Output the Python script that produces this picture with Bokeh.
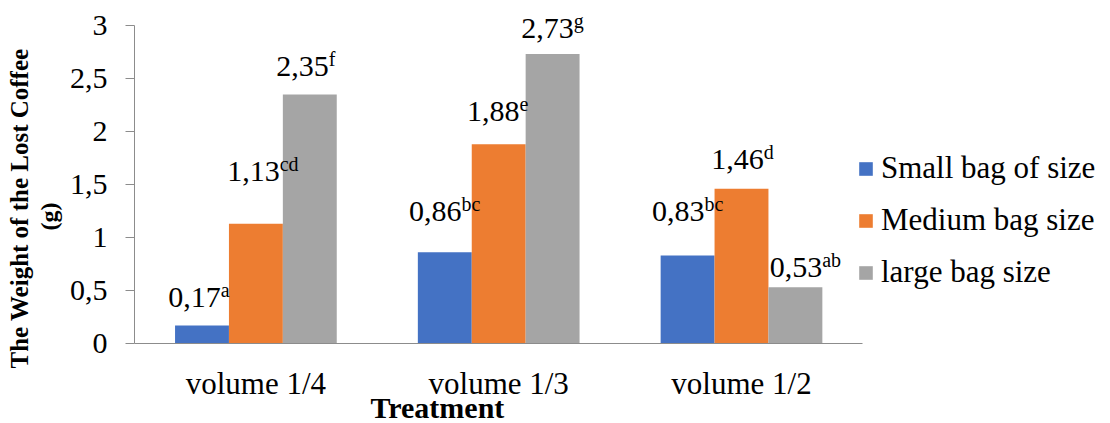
from bokeh.plotting import figure
from bokeh.models import (ColumnDataSource, Range1d, FixedTicker, Legend, LegendItem,
                          LabelSet, Title)
from bokeh.embed import file_html
from bokeh.resources import INLINE

# ---- data ----
treatments = ["volume 1/4", "volume 1/3", "volume 1/2"]
series_names = ["Small bag of size", "Medium bag size", "large bag size"]
small = [0.17, 0.86, 0.83]
medium = [1.13, 1.88, 1.46]
large = [2.35, 2.73, 0.53]
small_letters = ["a", "bc", "bc"]
medium_letters = ["cd", "e", "d"]
large_letters = ["f", "g", "ab"]
y_ticks = [0, 0.5, 1, 1.5, 2, 2.5, 3]
y_max = 3

# ---- label placement (px, style only) ----
small_dx, small_dy = [-3, 0, 0], [18, 31, 35]
medium_dx, medium_dy = [7, -1, 1], [43, 23, 20]
large_dx, large_dy = [-4, 0, 10], [18, 16, 10]

colors = ["#4472C4", "#ED7D31", "#A5A5A5"]
FONT = "Liberation Serif"
F_MAIN = 30
F_SUP = 20

# approximate Times widths (em)
W = {"0": .5, "1": .5, "2": .5, "3": .5, "4": .5, "5": .5, "6": .5, "7": .5, "8": .5, "9": .5,
     ",": .25, "a": .444, "b": .5, "c": .444, "d": .5, "e": .444, "f": .333, "g": .5}


def tw(s, f):
    return sum(W.get(ch, .5) for ch in s) * f


def fmt(v):
    return ("%.2f" % v).replace(".", ",")


def fmt_tick(t):
    return str(int(t)) if t == int(t) else str(t).replace(".", ",")


# layout (px)
WIDTH, HEIGHT = 1110, 423
LEFT = 134
FRAME_H = 343          # frame from canvas top to x axis
AX_H = 318             # height of the 0..3 value axis
CAT_W = 242.8          # width of one category slot
n_cat = len(treatments)
x_end = (WIDTH - LEFT) / CAT_W

p = figure(x_range=Range1d(0, x_end), y_range=Range1d(0, y_max * FRAME_H / AX_H),
           width=WIDTH, height=HEIGHT, output_backend="svg", toolbar_location=None,
           min_border_left=LEFT, min_border_right=0, min_border_top=0,
           min_border_bottom=HEIGHT - FRAME_H)
p.title.visible = False
p.grid.visible = False
p.outline_line_color = None
p.background_fill_color = "white"
p.border_fill_color = "white"

bar_w = 0.222
offsets = [-bar_w, 0, bar_w]
series = [small, medium, large]
letters = [small_letters, medium_letters, large_letters]
dxs = [small_dx, medium_dx, large_dx]
dys = [small_dy, medium_dy, large_dy]
cat_pos = [i + 0.5 for i in range(n_cat)]

renderers = []
for i, (vals, lets) in enumerate(zip(series, letters)):
    nums = [fmt(v) for v in vals]
    nw = [tw(n, F_MAIN) for n in nums]
    sw = [tw(l, F_SUP) for l in lets]
    tot = [a + b for a, b in zip(nw, sw)]
    src = ColumnDataSource(dict(
        x=[c + offsets[i] for c in cat_pos], val=vals, num=nums, sup=lets,
        xo_num=[-t / 2 + d for t, d in zip(tot, dxs[i])],
        xo_sup=[-t / 2 + a + d for t, a, d in zip(tot, nw, dxs[i])],
        yo_num=dys[i],
        yo_sup=[d + 10 for d in dys[i]],
    ))
    r = p.vbar(x="x", top="val", width=bar_w, source=src,
               fill_color=colors[i], line_color=None)
    renderers.append(r)
    p.add_layout(LabelSet(x="x", y="val", text="num",
                          x_offset="xo_num", y_offset="yo_num", source=src,
                          text_font=FONT, text_font_size=f"{F_MAIN}px", text_color="black",
                          text_align="left", text_baseline="alphabetic"))
    p.add_layout(LabelSet(x="x", y="val", text="sup",
                          x_offset="xo_sup", y_offset="yo_sup", source=src,
                          text_font=FONT, text_font_size=f"{F_SUP}px", text_color="black",
                          text_align="left", text_baseline="alphabetic"))

# axes
axc = "#8C8C8C"
p.yaxis.bounds = (0, y_max)
p.yaxis.ticker = FixedTicker(ticks=y_ticks)
p.yaxis.major_label_overrides = {t: fmt_tick(t) for t in y_ticks}
p.yaxis.major_tick_out = 9
p.yaxis.major_tick_in = 0
p.yaxis.major_label_standoff = 18
p.yaxis.major_label_text_font_size = "30px"

p.xaxis.bounds = (0, n_cat)
p.xaxis.ticker = FixedTicker(ticks=cat_pos)
p.xaxis.major_label_overrides = {c: t for c, t in zip(cat_pos, treatments)}
p.xaxis.major_tick_out = 0
p.xaxis.major_tick_in = 0
p.xaxis.major_label_standoff = 22
p.xaxis.major_label_text_font_size = "31px"

for ax in (p.xaxis, p.yaxis):
    ax.minor_tick_out = 0
    ax.minor_tick_in = 0
    ax.axis_line_color = axc
    ax.major_tick_line_color = axc
    ax.major_label_text_font = FONT
    ax.major_label_text_color = "black"

# axis titles
p.add_layout(Title(text="(g)", align="left", offset=113, standoff=6, vertical_align="top",
                   text_font=FONT, text_font_style="bold", text_font_size="24px",
                   text_color="black"), "left")
p.add_layout(Title(text="The Weight of the Lost Coffee", align="left", offset=-25, standoff=0,
                   text_font=FONT, text_font_style="bold", text_font_size="25px",
                   text_color="black"), "left")
p.add_layout(Title(text="Treatment", align="left", offset=236, standoff=-26,
                   vertical_align="top",
                   text_font=FONT, text_font_style="bold", text_font_size="30px",
                   text_color="black"), "below")

legend = Legend(items=[LegendItem(label=n, renderers=[r]) for n, r in zip(series_names, renderers)],
                location=(723, 53), orientation="vertical",
                glyph_width=17, glyph_height=17, label_height=35, spacing=16,
                label_standoff=7, padding=0, margin=0,
                label_text_font=FONT, label_text_font_size="31px", label_text_color="black",
                border_line_color=None, background_fill_alpha=0)
p.add_layout(legend, "center")

open("out.html", "w").write(file_html(p, INLINE))
